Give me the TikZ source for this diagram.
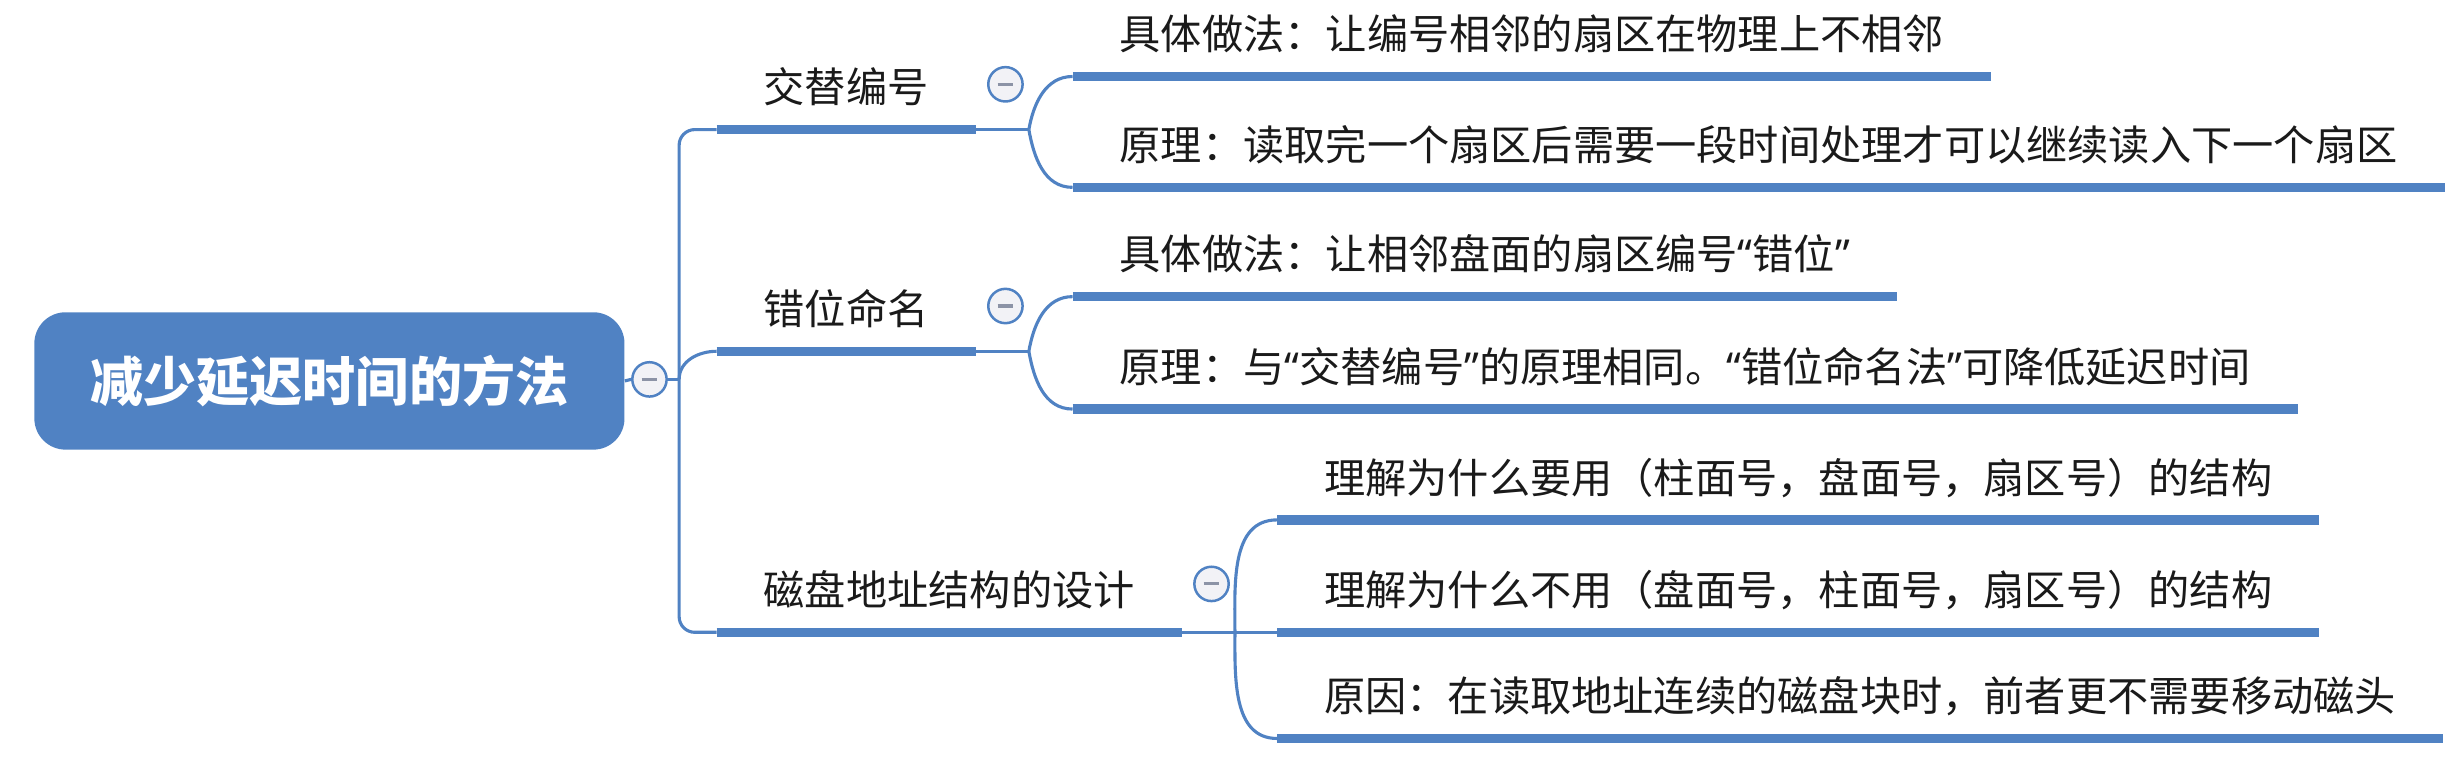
\documentclass[tikz,border=0pt]{standalone}
\usepackage{fontspec}
\usepackage{tikz}
\usetikzlibrary{positioning}
\setmainfont{Noto Sans CJK SC}
\newfontfamily\latinq{Noto Sans}
\newcommand{\quoted}[1]{{\latinq “}#1{\latinq ”}}
\definecolor{mapBlue}{HTML}{5082C3}
\definecolor{foldFill}{HTML}{F2F2F6}
\definecolor{foldMinus}{HTML}{8C93A6}
\definecolor{topicText}{HTML}{1A1A1A}

\begin{document}
\begin{tikzpicture}[x=1pt, y=-1pt,
    root/.style={rectangle, rounded corners=20pt, fill=mapBlue, minimum width=378pt, minimum height=88pt,
        text=white, font=\fontsize{34pt}{40pt}\selectfont\bfseries},
    topic/.style={anchor=south west, inner xsep=30pt, inner ysep=11pt, text height=20pt, text depth=6pt,
        text=topicText, font=\fontsize{26.4pt}{30pt}\selectfont},
    underline/.style={line width=6pt, draw=mapBlue},
    link/.style={line width=2pt, draw=mapBlue},
    fold/.style={circle, draw=mapBlue, line width=1.6pt, fill=foldFill, minimum size=22pt, inner sep=0pt,
        path picture={\draw[foldMinus, line width=2pt] ([xshift=-5pt]path picture bounding box.center) -- ([xshift=5pt]path picture bounding box.center);}},
]
    \useasboundingbox (0,0) rectangle (1568,495.8);

    \node[root] (root) at (211,244) {减少延迟时间的方法};
    \node[fold] (rootFold) at (416,243) {};
    \coordinate (trunk) at (435,243);

    \node[topic] (alt) at (459,83) {交替编号};
    \node[topic] (shift) at (459,225) {错位命名};
    \node[topic] (addr) at (459,405) {磁盘地址结构的设计};
    \node[fold] (altFold) at (644,54) {};
    \node[fold] (shiftFold) at (644,196) {};
    \node[fold] (addrFold) at (776,374) {};

    \node[topic] (altHow) at (687,49) {具体做法：让编号相邻的扇区在物理上不相邻};
    \node[topic] (altWhy) at (687,120) {原理：读取完一个扇区后需要一段时间处理才可以继续读入下一个扇区};
    \node[topic] (shiftHow) at (687,190) {具体做法：让相邻盘面的扇区编号\quoted{错位}};
    \node[topic] (shiftWhy) at (687,262) {原理：与\quoted{交替编号}的原理相同。\quoted{错位命名法}可降低延迟时间};
    \node[topic] (addrUse) at (818,333) {理解为什么要用（柱面号，盘面号，扇区号）的结构};
    \node[topic] (addrNot) at (818,405) {理解为什么不用（盘面号，柱面号，扇区号）的结构};
    \node[topic] (addrWhy) at (818,473) {原因：在读取地址连续的磁盘块时，前者更不需要移动磁头};

    \coordinate[right=34pt of alt.south east] (altFork);
    \coordinate[right=34pt of shift.south east] (shiftFork);
    \coordinate[right=34pt of addr.south east] (addrFork);

    \foreach \n in {alt, shift, addr, altHow, altWhy, shiftHow, shiftWhy, addrUse, addrNot, addrWhy}
        \draw[underline] (\n.south west) -- (\n.south east);

    \draw[link] (root.east) -- (rootFold.west);
    \draw[link] (rootFold.east) -- (trunk);
    \draw[link, rounded corners=10pt] (alt.south west) -| (trunk) |- (addr.south west);
    \draw[link] (trunk) to[out=90, in=180] (shift.south west);

    \draw[link] (alt.south east) -- (altFork);
    \draw[link] (altFork) to[out=80, in=180] (altHow.south west);
    \draw[link] (altFork) to[out=-80, in=180] (altWhy.south west);
    \draw[link] (shift.south east) -- (shiftFork);
    \draw[link] (shiftFork) to[out=80, in=180] (shiftHow.south west);
    \draw[link] (shiftFork) to[out=-80, in=180] (shiftWhy.south west);
    \draw[link] (addr.south east) -- (addrNot.south west);
    \draw[link] (addrUse.south west) to[out=180, in=90] (addrFork) to[out=-90, in=180] (addrWhy.south west);
\end{tikzpicture}
\end{document}
